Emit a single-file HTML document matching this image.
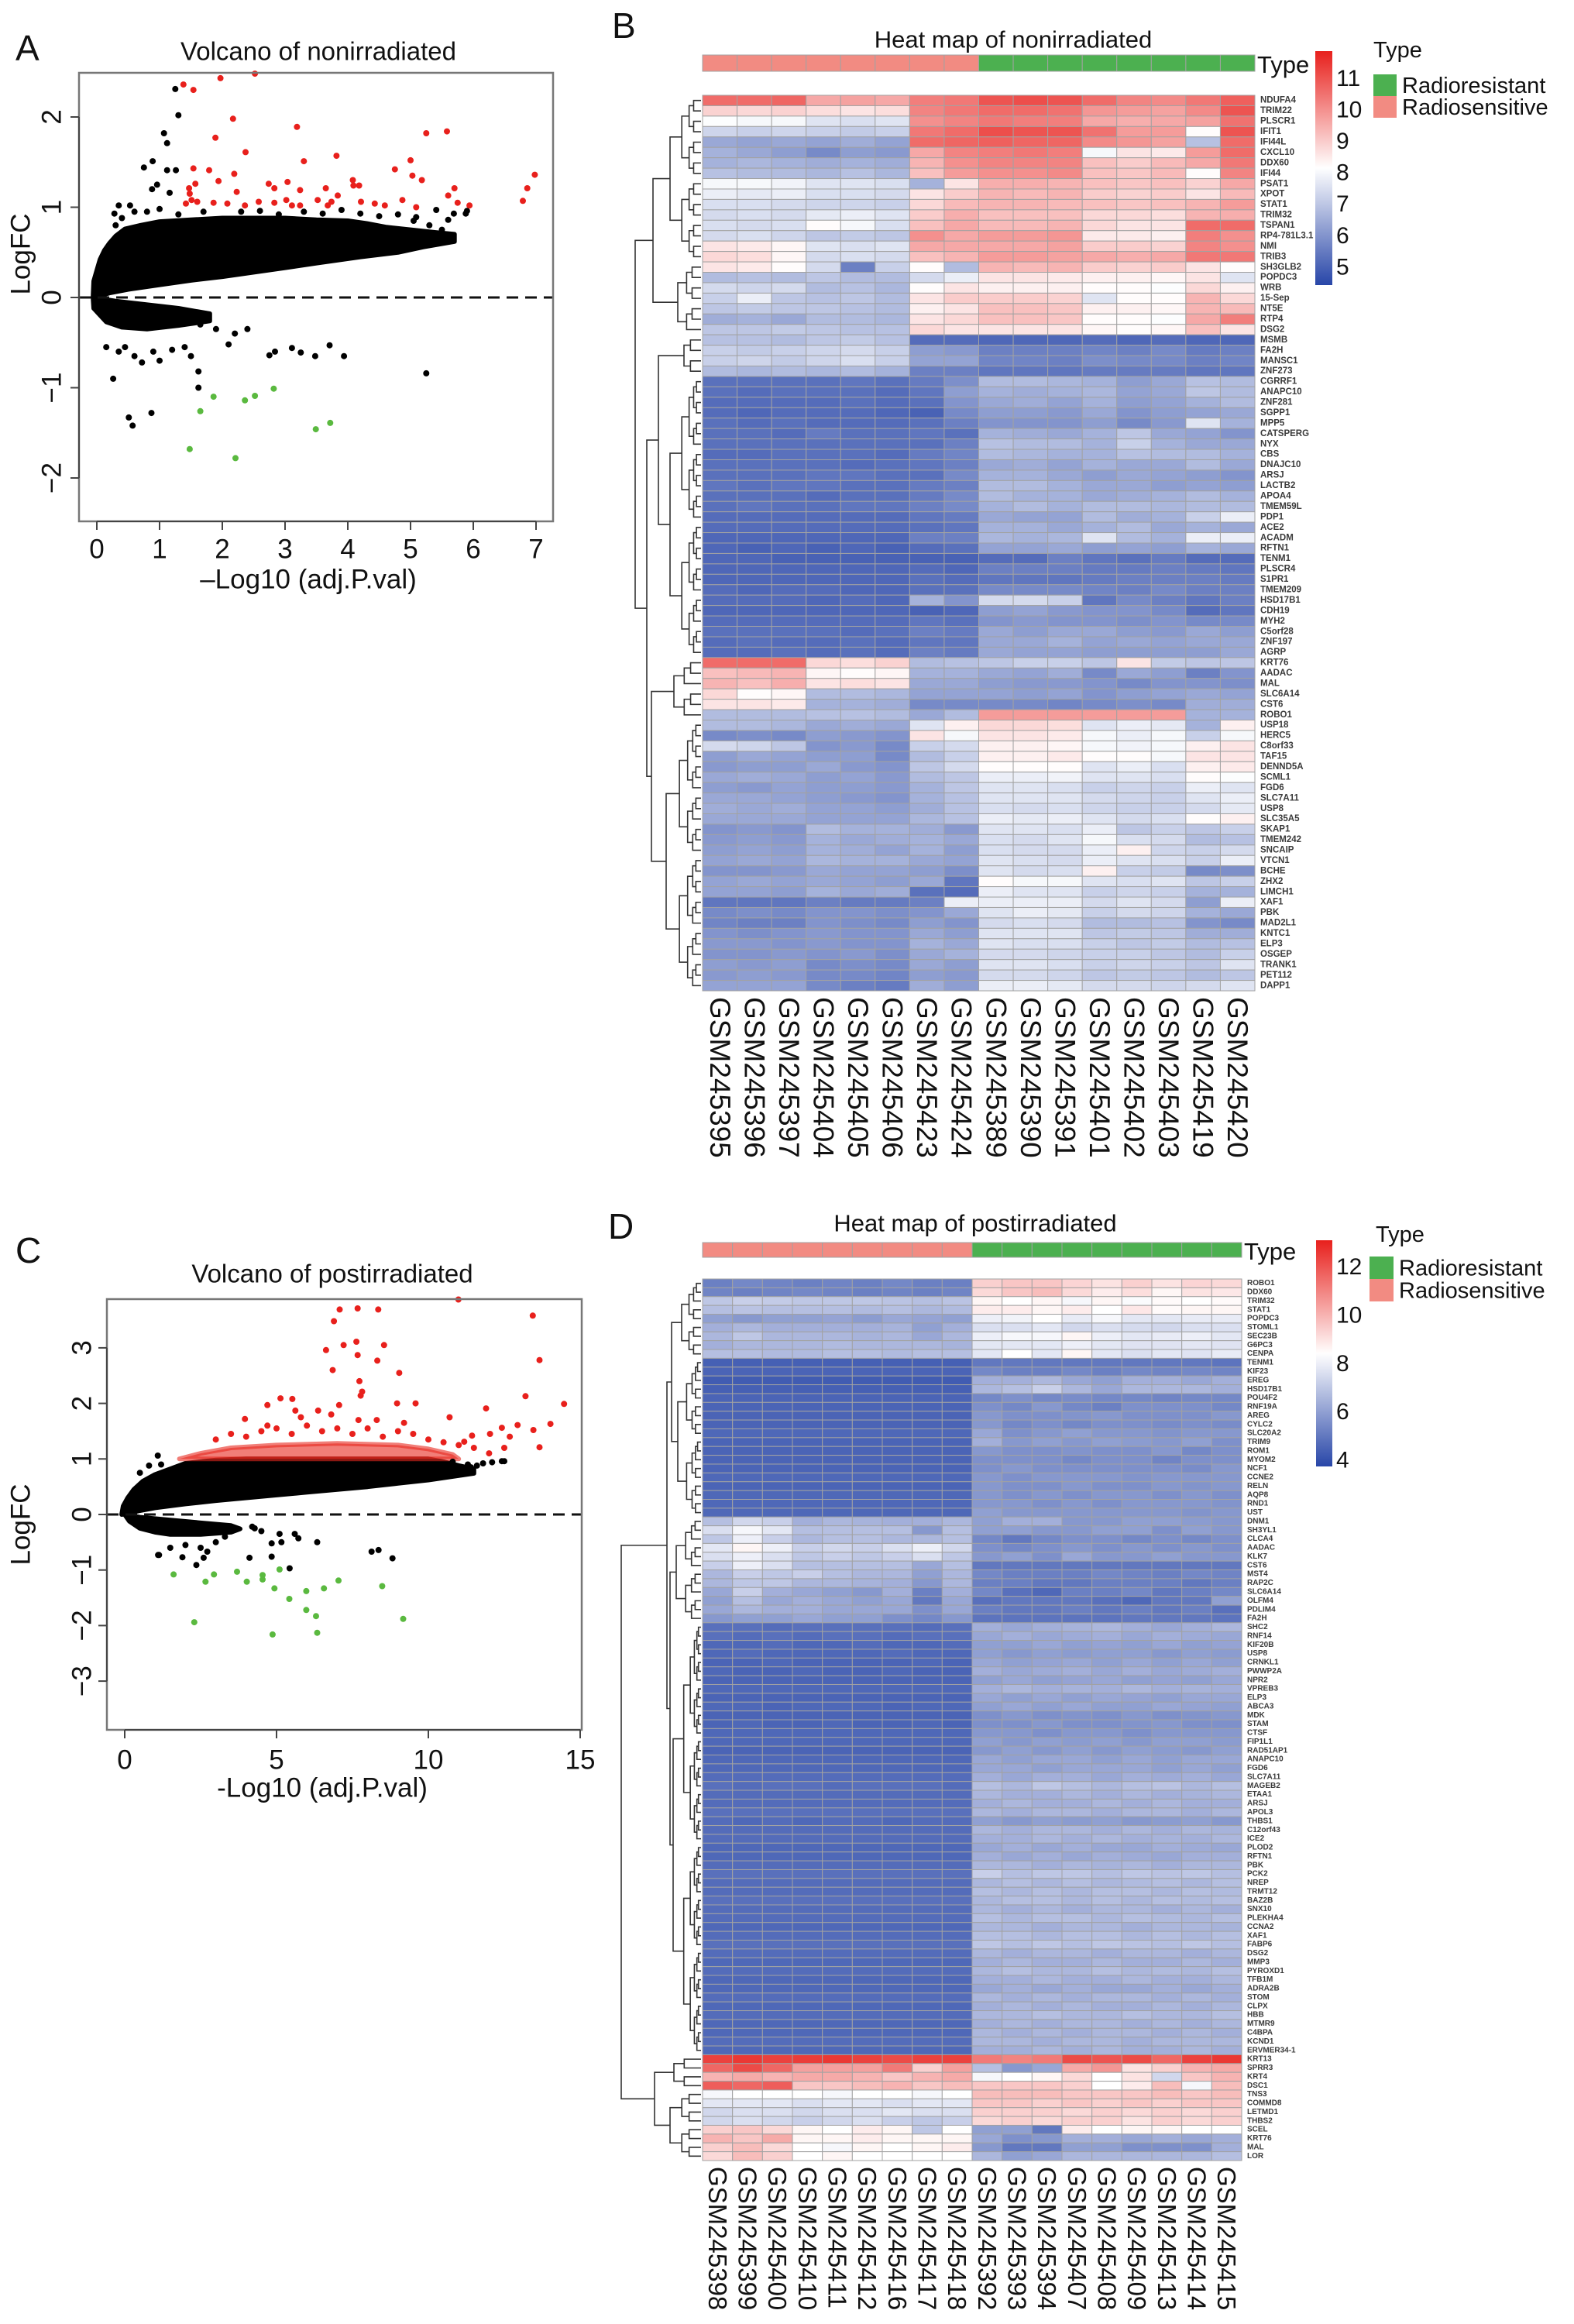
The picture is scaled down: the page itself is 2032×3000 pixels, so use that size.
<!DOCTYPE html>
<html><head><meta charset="utf-8">
<style>
html,body{margin:0;padding:0;background:#fff;}
svg{display:block;font-family:"Liberation Sans",Arial,sans-serif;}
</style></head>
<body>
<svg id="fig" width="2032" height="3000" viewBox="0 0 2032 3000" xmlns="http://www.w3.org/2000/svg"></svg>
<script>
// ===== Volcano A data =====
const aRedX=[1.38,1.54,1.97,2.52,2.17,1.89,2.37,3.19,3.30,3.82,5.25,5.58,5.0,4.75,5.03,5.18,6.98,6.86,6.79,5.94,5.75,5.70,5.60,5.09,4.87,4.43,4.59,4.21,4.09,4.18,4.08,3.84,3.74,3.65,3.68,3.52,3.24,3.04,3.02,2.83,2.74,2.83,2.58,2.36,2.23,2.19,2.08,1.94,1.86,1.79,1.54,1.57,1.47,1.48,1.51,1.42,1.6,3.11,3.24];
const aRedY=[2.36,2.30,2.43,2.48,1.98,1.77,1.61,1.89,1.51,1.57,1.82,1.84,1.52,1.42,1.35,1.30,1.36,1.21,1.07,1.02,1.05,1.21,1.13,1.0,1.08,1.04,1.02,1.06,1.24,1.24,1.30,1.13,1.06,1.21,1.02,1.08,1.19,1.28,1.08,1.21,1.26,1.05,1.06,1.02,1.17,1.37,1.04,1.29,1.05,1.41,1.43,1.26,1.21,1.15,1.08,1.04,1.06,1.02,1.02];
const aGreenX=[1.48,1.65,1.86,2.21,2.36,2.52,2.82,3.49,3.72];
const aGreenY=[-1.68,-1.26,-1.10,-1.78,-1.14,-1.09,-1.01,-1.46,-1.39];
const aBlackX=[1.25,1.30,1.07,1.12,0.89,0.75,1.12,1.26,0.96,0.88,1.16,0.35,0.53,0.28,5.25,0.26,0.51,0.57,0.87,1.62,1.62,3.94,3.71,3.48,3.25,3.11,2.75,2.84,5.6,5.69,5.41,5.88,5.09,0.15,0.35,0.6,0.72,0.9,1.2,1.4,1.5,1.0,0.45,1.9,2.2,2.1,2.4,1.65,0.6,0.8,1.0,1.3,1.7,2.3,2.6,2.9,3.3,3.6,3.9,4.2,4.5,4.8,5.05,5.3,5.5,0.4,0.3,5.9];
const aBlackY=[2.31,2.02,1.82,1.71,1.51,1.44,1.41,1.41,1.25,1.2,1.16,1.02,1.02,0.93,-0.84,-0.9,-1.33,-1.42,-1.28,-0.82,-1.0,-0.65,-0.53,-0.65,-0.61,-0.56,-0.64,-0.6,0.86,0.93,0.97,0.93,0.89,-0.55,-0.6,-0.65,-0.72,-0.6,-0.58,-0.55,-0.65,-0.7,-0.55,-0.35,-0.4,-0.52,-0.35,-0.3,0.95,0.95,0.98,0.92,0.95,0.95,0.96,0.92,0.95,0.93,0.97,0.93,0.9,0.92,0.85,0.8,0.75,0.88,0.8,0.96];
const aCloudX=[-0.06,-0.05,0,0.05,0.12,0.2,0.3,0.45,0.7,1,1.5,2,2.5,3,3.5,4,4.3,4.6,5,5.4,5.7,5.7,5.2,4.8,4.2,3.5,3,2.5,2,1.5,1,0.5,0.2,0.05];
const aCloudY=[0,0.18,0.3,0.42,0.52,0.6,0.68,0.76,0.8,0.84,0.86,0.88,0.88,0.88,0.86,0.85,0.82,0.78,0.75,0.72,0.7,0.62,0.56,0.5,0.45,0.38,0.33,0.28,0.23,0.19,0.14,0.09,0.05,0.02];
const aNegX=[-0.06,0.3,0.8,1.3,1.8,1.8,1.3,0.8,0.4,0.15,-0.05];
const aNegY=[0,-0.04,-0.08,-0.12,-0.18,-0.26,-0.31,-0.35,-0.33,-0.27,-0.12];
const aXTicks=[0,1,2,3,4,5,6,7];
const aYTicks=[-2,-1,0,1,2];

// ===== Volcano C data =====
const cRedX=[7.08,7.67,8.35,6.89,10.99,13.44,6.63,7.21,7.63,7.67,8.54,8.32,13.66,6.85,9.04,7.73,7.82,7.77,13.2,14.47,4.70,5.13,5.52,5.62,6.37,7.06,8.97,9.58,11.9,14.02,13.46,13.66,3.96,10.7,12.42,12.94,12.03,12.68,11.18,11.44,3,3.5,4,4.5,5,5.5,6,6.5,7,7.5,8,8.5,9,9.5,10,10.5,11,11.5,12,12.5,4.7,7.7,8.3,9.2,5.8,6.8];
const cRedY=[3.69,3.71,3.69,3.48,3.87,3.58,2.96,3.05,3.11,2.87,3.05,2.77,2.78,2.60,2.55,2.40,2.21,2.14,2.13,1.99,1.97,2.09,2.08,1.87,1.87,1.97,2.0,2.0,1.91,1.63,1.52,1.21,1.72,1.75,1.56,1.61,1.45,1.40,1.31,1.42,1.35,1.45,1.4,1.5,1.55,1.45,1.6,1.5,1.55,1.45,1.55,1.4,1.5,1.45,1.35,1.3,1.25,1.2,1.1,1.2,1.6,1.7,1.7,1.65,1.75,1.8];
const cGreenX=[1.61,2.29,2.66,2.94,3.70,4.02,4.54,4.54,4.87,4.93,5.10,5.42,5.98,5.98,6.30,6.34,6.56,7.04,8.48,9.17];
const cGreenY=[-1.08,-1.94,-1.21,-1.08,-1.03,-1.21,-1.09,-1.17,-2.16,-1.33,-0.99,-1.52,-1.38,-1.72,-1.83,-2.13,-1.33,-1.19,-1.29,-1.88];
const cBlackX=[1.09,8.13,8.36,8.82,5.43,4.11,4.84,6.34,5.72,5.16,4.84,4.28,2.36,1.9,1.13,2.72,12.42,12.1,11.4,0.5,0.8,1.2,10.8,11.3,11.6,11.8,12.5,1.1,1.5,2,2.5,3,3.3,2.6,4.5,4.2,5.1,5.6];
const cBlackY=[1.06,-0.67,-0.64,-0.79,-0.97,-0.78,-0.76,-0.5,-0.43,-0.5,-0.52,-0.25,-0.91,-0.77,-0.73,-0.67,0.96,0.94,0.85,0.75,0.88,0.9,0.95,0.9,0.88,0.92,0.96,-0.73,-0.6,-0.55,-0.6,-0.5,-0.4,-0.78,-0.3,-0.22,-0.35,-0.35];
const cCloudX=[-0.1,-0.05,0.1,0.3,0.6,1,1.5,2,3,4,6,8,10,10.5,11,11.5,11.5,11,10.5,10,9,8,7,6,5,4,3,2,1,0.5,0.2];
const cCloudY=[0,0.15,0.3,0.45,0.6,0.72,0.82,0.92,0.98,1.0,1.0,1.0,1.0,0.95,0.88,0.82,0.74,0.7,0.66,0.62,0.56,0.5,0.45,0.4,0.35,0.3,0.25,0.19,0.12,0.07,0.03];
const cNegX=[0,0.5,1.5,2.5,3.5,3.8,3.5,2.5,1.5,1,0.5,0.15];
const cNegY=[0,-0.05,-0.1,-0.15,-0.2,-0.26,-0.32,-0.36,-0.36,-0.32,-0.25,-0.12];
const cBandX=[1.8,2.5,3.5,5,7,9,10,10.8,11,1.8];
const cBandY=[1.0,1.1,1.2,1.25,1.28,1.25,1.18,1.08,1.0,1.0];
const cXTicks=[0,5,10,15];
const cYTicks=[-3,-2,-1,0,1,2,3];

// ===== Heatmap B data =====
const bCols=["GSM245395","GSM245396","GSM245397","GSM245404","GSM245405","GSM245406","GSM245423","GSM245424","GSM245389","GSM245390","GSM245391","GSM245401","GSM245402","GSM245403","GSM245419","GSM245420"];
const bTypes=["S","S","S","S","S","S","S","S","R","R","R","R","R","R","R","R"];
const bGenes=["NDUFA4","TRIM22","PLSCR1","IFIT1","IFI44L","CXCL10","DDX60","IFI44","PSAT1","XPOT","STAT1","TRIM32","TSPAN1","RP4-781L3.1","NMI","TRIB3","SH3GLB2","POPDC3","WRB","15-Sep","NT5E","RTP4","DSG2","MSMB","FA2H","MANSC1","ZNF273","CGRRF1","ANAPC10","ZNF281","SGPP1","MPP5","CATSPERG","NYX","CBS","DNAJC10","ARSJ","LACTB2","APOA4","TMEM59L","PDP1","ACE2","ACADM","RFTN1","TENM1","PLSCR4","S1PR1","TMEM209","HSD17B1","CDH19","MYH2","C5orf28","ZNF197","AGRP","KRT76","AADAC","MAL","SLC6A14","CST6","ROBO1","USP18","HERC5","C8orf33","TAF15","DENND5A","SCML1","FGD6","SLC7A11","USP8","SLC35A5","SKAP1","TMEM242","SNCAIP","VTCN1","BCHE","ZHX2","LIMCH1","XAF1","PBK","MAD2L1","KNTC1","ELP3","OSGEP","TRANK1","PET112","DAPP1"];
const bValues=[
[10.6,10.6,10.7,9.6,9.7,9.6,10.3,10.4,11.0,11.1,11.0,10.6,10.2,10.1,10.4,10.8],
[8.9,8.8,8.9,8.7,8.6,8.7,10.2,10.4,10.6,10.6,10.5,9.9,9.8,9.7,10.1,11.0],
[8.1,8.0,8.0,7.6,7.5,7.6,10.0,10.2,10.4,10.3,10.3,9.6,9.5,9.6,9.7,10.5],
[7.3,7.2,7.3,7.2,7.1,7.2,10.4,10.6,11.1,11.0,11.0,10.5,9.8,9.8,8.2,11.0],
[6.4,6.3,6.4,6.3,6.5,6.3,10.6,10.7,10.8,10.7,10.7,10.1,9.9,9.7,6.9,10.6],
[6.6,6.4,6.2,5.8,6.2,6.1,9.6,10.2,10.3,10.4,10.3,8.0,8.6,8.5,9.8,10.6],
[6.6,6.7,6.6,6.5,6.6,6.5,9.4,10.0,10.2,10.2,10.2,9.2,9.0,9.3,9.6,10.4],
[6.9,6.8,6.8,6.7,6.9,6.7,9.2,9.8,10.0,10.0,10.1,9.2,9.1,9.3,8.2,10.2],
[8.0,8.0,7.9,7.6,7.6,7.5,6.6,8.6,9.5,9.5,9.4,9.2,9.1,9.2,8.9,9.6],
[7.8,7.7,7.8,7.5,7.5,7.4,8.6,9.0,9.4,9.3,9.4,9.0,8.9,9.0,8.6,9.3],
[7.5,7.5,7.4,7.3,7.3,7.2,8.8,9.3,9.4,9.4,9.3,9.2,9.1,9.2,9.4,9.8],
[7.4,7.5,7.4,7.7,7.8,7.6,9.0,9.5,9.2,9.2,9.2,8.8,8.8,8.7,9.4,9.5],
[7.5,7.4,7.5,8.2,8.0,7.5,9.2,9.6,9.3,9.3,9.4,8.8,8.6,8.6,10.6,10.6],
[7.4,7.5,7.3,7.0,7.1,7.0,10.0,9.6,9.8,9.8,9.9,8.5,8.5,8.4,10.3,10.0],
[8.6,8.5,8.3,7.6,7.5,7.6,9.6,9.6,9.6,9.6,9.7,9.0,9.0,8.9,10.2,10.0],
[8.8,8.7,8.3,7.4,7.5,7.4,9.2,9.4,9.8,9.8,9.7,9.6,9.5,9.6,10.4,10.4],
[8.6,8.5,8.2,7.4,5.6,7.2,8.2,6.8,9.4,9.3,9.4,9.0,8.9,9.0,8.6,8.2],
[6.8,6.9,6.8,7.0,6.8,6.8,7.4,7.8,8.6,8.6,8.5,8.4,8.4,8.3,8.6,7.6],
[7.4,7.3,7.4,6.8,6.9,6.7,8.2,8.6,8.4,8.4,8.4,8.2,8.2,8.1,8.8,8.4],
[7.2,7.8,7.0,6.9,7.0,6.8,8.6,9.0,9.0,9.0,8.9,7.6,8.2,8.2,9.4,8.8],
[7.0,7.1,7.0,7.0,6.9,6.8,8.4,8.6,9.2,9.2,9.1,8.4,8.4,8.3,9.4,9.3],
[6.5,6.6,6.4,6.8,6.8,6.7,8.6,8.8,9.2,9.2,9.1,8.2,8.2,8.1,9.6,10.3],
[7.0,7.0,7.1,7.0,6.9,6.9,8.8,8.6,8.6,8.6,8.6,8.3,8.2,8.3,9.2,8.6],
[6.9,6.9,6.8,7.0,7.1,6.9,5.2,5.2,5.1,5.1,5.1,5.2,5.1,5.2,5.1,5.1],
[7.2,7.1,7.2,7.3,7.4,7.2,6.2,6.1,5.6,5.6,5.6,5.7,5.6,5.8,5.5,5.6],
[7.2,7.3,7.1,7.3,7.5,7.2,6.3,6.3,5.7,5.7,5.6,5.9,5.8,5.8,5.6,5.7],
[6.8,6.7,6.8,6.7,6.8,6.6,5.6,5.6,5.4,5.4,5.4,5.5,5.5,5.5,5.4,5.4],
[5.3,5.3,5.3,5.3,5.4,5.3,5.5,5.9,6.8,6.8,6.7,6.6,6.2,6.4,6.9,6.8],
[5.3,5.2,5.3,5.3,5.3,5.2,5.4,6.2,6.6,6.5,6.6,6.7,6.3,6.4,7.0,6.8],
[5.2,5.2,5.2,5.2,5.3,5.2,5.3,6.0,6.4,6.5,6.3,6.6,6.2,6.3,6.6,6.8],
[5.2,5.1,5.2,5.2,5.2,5.1,5.0,5.8,6.2,6.2,6.1,6.4,6.0,6.2,6.3,6.4],
[5.3,5.2,5.3,5.2,5.2,5.2,5.3,5.6,6.0,6.0,6.0,6.2,5.8,6.1,7.6,6.6],
[5.3,5.3,5.2,5.5,5.3,5.3,5.4,5.3,6.6,6.5,6.4,6.6,7.0,6.4,6.3,6.0],
[5.3,5.3,5.3,5.3,5.3,5.3,5.3,5.6,6.9,6.8,6.8,6.6,7.2,6.6,6.4,6.4],
[5.2,5.2,5.3,5.3,5.3,5.2,5.5,5.7,6.8,6.7,6.6,6.6,6.9,6.8,6.8,6.6],
[5.3,5.3,5.3,5.3,5.2,5.3,5.4,5.6,6.4,6.5,6.3,6.6,6.4,6.4,6.8,6.4],
[5.3,5.3,5.3,5.4,5.4,5.3,5.3,5.8,6.6,6.6,6.4,6.2,6.4,6.3,6.2,6.0],
[5.4,5.3,5.4,5.4,5.3,5.3,5.5,5.6,6.8,6.8,6.6,6.4,6.4,6.2,6.3,6.2],
[5.3,5.3,5.3,5.2,5.3,5.3,5.5,5.8,6.8,6.6,6.6,6.4,6.5,6.6,6.8,6.6],
[5.3,5.4,5.3,5.3,5.4,5.4,5.6,5.8,6.6,6.8,6.6,6.8,6.8,6.7,6.8,6.8],
[5.2,5.2,5.2,5.2,5.2,5.2,5.4,5.5,6.4,6.3,6.3,6.8,6.5,6.6,7.2,7.8],
[5.2,5.2,5.2,5.2,5.2,5.2,5.3,5.4,6.6,6.6,6.4,6.6,6.8,6.4,6.6,6.4],
[5.1,5.1,5.1,5.1,5.1,5.1,5.6,5.6,6.7,6.6,6.7,7.6,6.8,6.6,7.8,7.8],
[5.1,5.0,5.1,5.0,5.1,5.0,5.2,5.3,6.3,6.3,6.4,6.2,6.3,6.2,6.6,6.4],
[5.1,5.1,5.0,5.0,5.0,5.0,5.0,5.0,5.2,5.2,5.6,5.4,5.3,5.5,5.2,5.2],
[5.1,5.1,5.1,5.1,5.1,5.1,5.2,5.1,5.6,5.6,5.6,5.5,5.5,5.6,5.5,5.4],
[5.1,5.1,5.1,5.1,5.1,5.1,5.3,5.2,5.4,5.4,5.4,5.5,5.6,5.6,5.6,5.5],
[5.2,5.1,5.2,5.2,5.1,5.1,5.3,5.3,5.8,5.8,5.8,5.7,5.6,5.8,5.6,5.6],
[5.2,5.2,5.2,5.1,5.2,5.1,6.6,6.0,7.4,7.4,7.2,5.4,5.8,5.6,5.4,5.6],
[5.1,5.1,5.1,5.1,5.1,5.1,5.0,5.1,6.2,6.3,6.1,6.0,6.0,5.8,5.2,5.4],
[5.2,5.2,5.2,5.2,5.2,5.2,5.4,5.3,6.0,6.1,6.0,6.0,5.9,6.0,5.8,5.8],
[5.3,5.3,5.3,5.3,5.2,5.3,5.6,5.5,6.4,6.2,6.4,6.4,6.2,6.1,6.4,6.2],
[5.2,5.3,5.2,5.2,5.3,5.2,5.4,5.4,6.4,6.4,6.6,6.3,6.4,6.3,6.4,6.4],
[5.2,5.2,5.3,5.2,5.3,5.2,5.6,5.5,6.4,6.3,6.3,6.2,6.2,6.2,6.2,6.4],
[10.6,10.6,10.6,8.8,8.7,8.9,6.8,6.9,7.0,7.2,7.2,7.0,8.6,7.1,7.0,7.0],
[9.2,9.3,9.4,8.3,8.2,8.3,6.6,6.6,6.4,6.3,6.5,5.8,6.4,6.2,5.6,6.0],
[9.4,9.2,9.5,8.6,8.7,8.6,6.4,6.4,6.2,6.1,6.1,6.0,5.8,6.0,6.0,5.9],
[8.8,8.2,8.3,6.8,6.8,6.7,6.3,6.3,6.3,6.2,6.3,6.0,6.2,6.3,6.4,6.3],
[8.6,8.6,8.5,6.6,6.6,6.5,5.8,5.8,5.8,5.8,5.7,5.8,5.9,5.8,6.5,6.5],
[6.8,6.8,6.8,6.9,6.9,6.8,6.4,6.8,9.8,9.8,9.8,9.8,9.8,9.8,6.6,6.6],
[6.8,6.8,6.7,6.4,6.5,6.4,7.6,8.4,8.8,8.8,8.7,7.6,7.8,7.7,6.6,8.4],
[5.8,5.9,5.8,6.2,6.1,6.0,8.6,8.0,8.6,8.6,8.5,8.0,7.8,8.0,7.2,8.0],
[7.4,7.3,7.0,6.0,6.1,5.8,7.2,7.4,8.4,8.4,8.3,8.0,7.9,8.0,8.4,8.6],
[6.2,6.4,6.3,6.2,6.2,5.8,6.8,7.2,8.4,8.4,8.5,8.2,8.2,8.0,8.6,8.6],
[6.1,6.2,6.2,6.4,6.1,6.0,7.0,7.4,8.2,8.2,8.2,7.6,7.8,7.5,8.4,8.5],
[6.4,6.5,6.4,6.2,6.3,6.1,6.8,7.0,7.8,7.8,7.9,7.6,7.6,7.5,8.2,8.1],
[6.2,6.1,6.3,6.2,6.2,6.1,6.6,7.0,7.6,7.6,7.5,7.2,7.3,7.2,7.8,7.6],
[6.4,6.4,6.3,6.2,6.1,6.0,6.6,6.9,7.6,7.6,7.6,7.4,7.3,7.2,7.6,7.8],
[6.5,6.4,6.5,6.3,6.3,6.2,6.5,6.9,7.5,7.4,7.5,7.3,7.2,7.2,7.4,7.7],
[6.4,6.4,6.4,6.3,6.3,6.3,6.7,6.9,7.8,7.7,7.8,7.6,7.4,7.5,8.2,8.4],
[6.0,6.1,6.0,6.8,6.6,6.6,6.5,6.1,7.6,7.6,7.5,7.8,7.0,7.2,7.0,7.2],
[6.1,6.2,6.1,6.6,6.4,6.5,6.6,6.4,7.5,7.4,7.6,8.0,7.5,7.4,6.8,6.9],
[6.2,6.3,6.2,6.6,6.5,6.3,6.6,6.2,7.5,7.4,7.4,7.8,8.4,7.3,7.2,7.4],
[6.3,6.4,6.3,6.7,6.6,6.6,6.4,6.3,7.6,7.5,7.4,7.8,7.6,7.5,7.2,7.8],
[6.0,6.0,6.1,6.4,6.3,6.3,6.2,5.9,7.6,7.4,7.5,8.4,7.2,7.1,5.8,5.9],
[6.3,6.4,6.3,6.4,6.3,6.2,6.4,5.4,8.2,8.0,8.0,7.6,7.5,7.6,7.0,7.2],
[6.3,6.3,6.2,6.6,6.4,6.5,5.3,5.2,7.8,7.6,7.6,7.2,7.3,7.2,6.6,6.6],
[5.4,5.4,5.4,5.6,5.5,5.5,5.6,7.8,7.8,7.8,7.8,7.4,7.6,7.4,6.2,7.8],
[5.8,5.9,5.8,6.0,6.0,5.9,6.0,6.4,7.6,7.8,7.7,7.2,7.4,7.3,6.6,6.4],
[5.7,5.6,5.6,6.0,5.9,5.8,6.2,6.0,7.4,7.5,7.4,6.8,6.8,6.9,6.0,5.8],
[6.0,5.9,6.0,6.1,6.0,6.0,6.4,6.2,7.6,7.6,7.6,7.0,7.1,7.0,6.5,6.5],
[6.1,6.1,6.0,6.1,6.0,6.0,6.6,6.4,7.6,7.5,7.5,7.2,7.0,7.1,6.8,6.9],
[6.0,6.0,6.1,6.0,6.1,5.9,6.4,6.6,7.4,7.4,7.3,7.2,7.2,7.0,6.8,7.2],
[6.2,6.1,6.2,5.8,5.9,5.8,6.4,6.2,7.6,7.6,7.5,7.2,7.3,7.2,7.0,7.6],
[6.1,6.2,6.1,5.8,5.8,5.7,6.2,6.1,7.4,7.4,7.3,7.0,7.1,7.0,6.8,7.0],
[6.3,6.3,6.3,5.8,5.6,5.5,6.5,6.2,7.8,7.8,7.7,7.4,7.4,7.3,7.4,7.6]];
const bScaleTicks=[5,6,7,8,9,10,11];

// ===== Heatmap D data =====
const dCols=["GSM245398","GSM245399","GSM245400","GSM245410","GSM245411","GSM245412","GSM245416","GSM245417","GSM245418","GSM245392","GSM245393","GSM245394","GSM245407","GSM245408","GSM245409","GSM245413","GSM245414","GSM245415"];
const dTypes=["S","S","S","S","S","S","S","S","S","R","R","R","R","R","R","R","R","R"];
const dGenes=["ROBO1","DDX60","TRIM32","STAT1","POPDC3","STOML1","SEC23B","G6PC3","CENPA","TENM1","KIF23","EREG","HSD17B1","POU4F2","RNF19A","AREG","CYLC2","SLC20A2","TRIM9","ROM1","MYOM2","NCF1","CCNE2","RELN","AQP8","RND1","UST","DNM1","SH3YL1","CLCA4","AADAC","KLK7","CST6","MST4","RAP2C","SLC6A14","OLFM4","PDLIM4","FA2H","SHC2","RNF14","KIF20B","USP8","CRNKL1","PWWP2A","NPR2","VPREB3","ELP3","ABCA3","MDK","STAM","CTSF","FIP1L1","RAD51AP1","ANAPC10","FGD6","SLC7A11","MAGEB2","ETAA1","ARSJ","APOL3","THBS1","C12orf43","ICE2","PLOD2","RFTN1","PBK","PCK2","NREP","TRMT12","BAZ2B","SNX10","PLEKHA4","CCNA2","XAF1","FABP6","DSG2","MMP3","PYROXD1","TFB1M","ADRA2B","STOM","CLPX","HBB","MTMR9","C4BPA","KCND1","ERVMER34-1","KRT13","SPRR3","KRT4","DSC1","TNS3","COMMD8","LETMD1","THBS2","SCEL","KRT76","MAL","LOR"];
const dValues=[
[5.2,5.4,5.3,5.2,5.3,5.2,5.4,5.2,5.2,9.4,9.6,9.6,9.3,9.0,9.4,9.0,9.3,9.2],
[5.3,5.2,5.3,5.4,5.3,5.2,5.3,5.2,5.3,9.2,9.6,9.8,9.2,8.8,9.1,8.6,9.0,8.9],
[7.0,7.2,7.1,7.0,7.0,7.0,6.9,6.8,6.9,8.6,8.4,8.6,8.2,8.6,8.3,8.5,8.4,8.5],
[6.8,6.9,6.8,6.8,6.8,6.7,6.8,6.6,6.7,8.8,8.8,8.6,8.8,8.4,8.9,8.5,8.6,8.6],
[6.0,5.8,6.0,6.0,6.1,5.9,6.2,6.1,6.0,8.0,8.1,8.4,7.9,8.2,7.8,7.8,7.9,7.9],
[6.4,6.6,6.4,6.4,6.4,6.4,6.5,6.0,6.4,7.6,7.6,7.8,7.4,7.6,7.5,7.4,7.6,7.6],
[6.6,7.0,6.6,6.6,6.6,6.5,6.6,6.2,6.6,8.0,8.2,8.2,8.6,8.0,7.8,7.9,8.0,7.8],
[6.4,6.6,6.6,6.6,6.7,6.6,6.6,6.6,6.5,7.8,7.8,7.8,8.0,7.8,7.7,7.7,7.8,7.7],
[6.8,6.8,6.7,6.7,6.8,6.8,6.7,6.8,6.8,7.8,8.4,7.8,8.6,7.8,7.6,7.8,7.7,7.9],
[4.4,4.4,4.4,4.4,4.4,4.4,4.4,4.4,4.4,5.0,5.0,5.0,5.0,5.0,5.0,5.0,5.0,4.9],
[4.5,4.5,4.5,4.5,4.5,4.5,4.5,4.5,4.5,5.4,5.2,5.2,5.4,5.2,5.4,5.3,5.4,5.3],
[4.3,4.3,4.3,4.3,4.3,4.3,4.3,4.3,4.3,6.4,6.4,6.6,6.2,6.0,6.4,6.4,6.2,6.4],
[4.4,4.4,4.4,4.4,4.4,4.4,4.4,4.4,4.4,6.6,6.8,7.2,6.6,6.2,6.6,6.6,6.6,6.4],
[4.5,4.5,4.5,4.5,4.5,4.5,4.5,4.5,4.5,5.4,5.6,5.4,5.5,5.4,5.4,5.3,5.4,5.4],
[4.5,4.5,4.5,4.5,4.5,4.5,4.5,4.5,4.5,5.6,5.4,5.8,5.4,5.2,5.6,5.6,5.6,5.4],
[4.5,4.5,4.5,4.5,4.5,4.5,4.5,4.5,4.5,5.8,5.6,5.6,5.7,5.8,5.6,5.6,5.6,5.8],
[4.5,4.5,4.5,4.5,4.5,4.5,4.5,4.5,4.5,5.8,5.4,5.6,5.4,5.6,5.6,5.5,5.6,5.5],
[4.6,4.6,4.6,4.6,4.6,4.6,4.6,4.6,4.6,6.2,5.6,5.8,6.0,5.8,5.8,5.7,5.8,5.8],
[4.5,4.5,4.5,4.5,4.5,4.5,4.5,4.5,4.5,6.4,5.8,6.0,5.8,6.0,5.9,5.8,6.0,5.6],
[4.5,4.5,4.5,4.5,4.5,4.5,4.5,4.5,4.5,5.8,5.6,5.6,5.7,5.6,5.6,5.8,5.4,5.6],
[4.5,4.5,4.5,4.5,4.5,4.5,4.5,4.5,4.5,5.6,5.6,5.6,5.4,5.6,5.6,5.3,5.6,5.6],
[4.5,4.5,4.5,4.5,4.5,4.5,4.5,4.5,4.5,5.6,5.8,5.6,5.6,5.6,5.6,5.6,5.5,5.8],
[4.6,4.6,4.6,4.6,4.6,4.6,4.6,4.6,4.6,5.8,5.6,5.8,5.8,5.8,5.7,5.8,5.8,5.8],
[4.5,4.5,4.5,4.5,4.5,4.5,4.5,4.5,4.5,5.8,5.6,5.6,5.8,5.6,5.6,5.8,5.7,5.8],
[4.6,4.6,4.6,4.6,4.6,4.6,4.6,4.6,4.6,5.8,5.6,5.8,5.6,5.8,5.8,5.6,5.8,5.6],
[4.6,4.6,4.6,4.6,4.6,4.6,4.6,4.6,4.6,5.8,5.8,5.6,5.8,5.6,5.8,5.8,5.8,5.7],
[4.6,4.6,4.6,4.6,4.6,4.6,4.6,4.6,4.6,6.0,5.8,5.8,5.8,5.8,5.8,5.8,5.7,5.8],
[6.8,7.4,7.2,6.4,6.6,6.5,6.4,6.4,6.6,6.0,6.4,6.4,5.8,5.8,6.0,6.0,5.9,5.8],
[7.6,8.2,7.8,6.8,6.8,6.8,6.8,5.8,6.8,6.0,6.0,5.8,5.8,6.0,6.0,5.6,6.0,5.8],
[7.0,8.0,7.2,6.6,6.8,6.8,6.6,6.6,6.8,5.4,5.0,5.4,5.6,5.6,5.4,5.6,5.4,5.6],
[7.8,8.6,8.0,7.2,7.4,7.2,7.6,8.0,7.4,5.6,5.4,5.6,5.8,5.6,5.8,5.6,5.8,5.6],
[7.6,8.0,7.6,7.0,7.2,7.0,7.2,7.6,7.0,5.8,6.0,5.6,6.2,5.8,5.8,6.0,5.8,5.8],
[7.2,8.0,7.6,6.8,6.8,6.8,6.8,6.2,6.8,5.0,5.0,5.0,5.0,5.0,5.0,5.0,5.0,5.0],
[6.6,7.2,7.0,7.2,6.8,6.6,6.6,6.0,6.6,5.4,5.2,5.2,5.2,5.4,5.3,5.2,5.4,5.3],
[6.6,7.0,7.0,6.6,6.6,6.5,6.4,5.8,6.6,5.2,5.2,5.0,5.0,5.2,5.2,5.2,5.0,5.2],
[6.2,7.2,6.4,6.2,6.0,5.8,6.4,5.2,6.4,5.4,4.8,4.6,5.2,5.2,5.4,5.0,5.2,5.4],
[6.0,6.8,6.2,6.4,6.2,6.0,6.2,5.0,6.2,4.8,5.0,5.0,5.0,4.8,4.6,5.0,5.0,6.0],
[6.2,6.6,6.4,6.4,6.2,6.2,6.2,5.6,6.2,5.2,5.0,5.0,5.2,5.0,5.2,5.0,5.2,4.8],
[5.8,6.0,6.0,6.2,6.0,6.0,5.6,5.4,5.8,4.9,4.9,4.9,4.9,4.9,5.0,5.0,5.0,4.9],
[4.8,4.8,4.7,4.8,4.8,4.8,4.8,4.7,4.8,6.4,6.2,6.4,6.5,6.6,6.4,6.2,6.4,6.6],
[4.8,4.7,4.8,4.7,4.8,4.8,4.7,4.8,4.8,6.2,6.4,6.2,6.3,6.4,6.2,6.4,6.3,6.2],
[4.6,4.6,4.7,4.6,4.6,4.7,4.6,4.6,4.7,6.0,6.0,6.2,6.0,6.1,6.0,6.2,6.0,6.1],
[4.6,4.7,4.6,4.6,4.6,4.6,4.7,4.6,4.6,6.0,5.8,6.0,5.9,6.0,6.0,5.8,6.0,5.9],
[4.5,4.5,4.6,4.5,4.5,4.5,4.5,4.6,4.5,6.2,6.0,6.1,6.2,6.0,6.2,6.0,6.2,6.0],
[4.6,4.5,4.5,4.6,4.5,4.5,4.6,4.5,4.5,6.4,6.2,6.3,6.4,6.2,6.4,6.2,6.3,6.4],
[4.5,4.5,4.5,4.5,4.5,4.5,4.5,4.5,4.5,6.0,6.2,6.0,6.1,6.2,6.0,6.1,6.0,6.2],
[4.6,4.6,4.6,4.6,4.6,4.6,4.6,4.6,4.6,6.4,6.6,6.4,6.5,6.4,6.6,6.4,6.5,6.4],
[4.5,4.5,4.5,4.5,4.5,4.5,4.5,4.5,4.5,6.2,6.0,6.2,6.0,6.2,6.1,6.0,6.2,6.2],
[4.6,4.6,4.5,4.6,4.6,4.6,4.5,4.6,4.6,6.0,6.2,6.0,6.2,6.0,6.0,6.2,6.1,6.0],
[4.5,4.5,4.5,4.5,4.5,4.5,4.5,4.5,4.5,5.6,5.8,5.6,5.7,5.6,5.8,5.6,5.7,5.8],
[4.5,4.6,4.5,4.5,4.6,4.5,4.5,4.6,4.5,5.6,5.6,5.8,5.6,5.6,5.7,5.8,5.6,5.6],
[4.6,4.6,4.6,4.6,4.6,4.6,4.6,4.6,4.6,5.8,5.8,5.6,5.8,5.8,5.6,5.8,5.8,5.8],
[4.6,4.6,4.6,4.6,4.6,4.6,4.6,4.6,4.6,6.0,5.8,6.0,5.9,6.0,5.8,6.0,6.0,5.9],
[4.5,4.5,4.5,4.5,4.5,4.5,4.5,4.5,4.5,5.8,6.0,5.8,6.0,5.8,6.0,5.9,5.8,6.0],
[4.6,4.6,4.6,4.6,4.6,4.6,4.6,4.6,4.6,6.2,6.0,6.2,6.2,6.0,6.2,6.0,6.2,6.2],
[4.6,4.6,4.6,4.6,4.6,4.6,4.6,4.6,4.6,6.2,6.2,6.0,6.2,6.2,6.2,6.0,6.2,6.0],
[4.7,4.7,4.7,4.7,4.7,4.7,4.7,4.7,4.7,6.4,6.2,6.4,6.4,6.2,6.4,6.3,6.4,6.2],
[4.8,4.7,4.8,4.8,4.7,4.8,4.8,4.8,4.7,6.8,6.6,7.0,6.8,6.6,6.8,6.9,6.6,6.8],
[4.7,4.7,4.7,4.7,4.7,4.7,4.7,4.7,4.7,6.6,6.4,6.4,6.6,6.4,6.6,6.4,6.5,6.6],
[4.7,4.7,4.7,4.7,4.7,4.7,4.7,4.7,4.7,6.4,6.6,6.4,6.4,6.6,6.4,6.6,6.4,6.4],
[4.8,4.8,4.8,4.8,4.8,4.8,4.8,4.8,4.8,6.6,6.4,6.6,6.6,6.4,6.6,6.6,6.4,6.6],
[4.7,4.6,4.7,4.6,4.7,4.7,4.6,4.7,4.7,6.0,5.8,6.0,5.9,6.0,5.8,5.9,6.0,5.8],
[4.7,4.7,4.7,4.7,4.7,4.7,4.7,4.7,4.7,6.6,6.4,6.6,6.6,6.4,6.6,6.4,6.6,6.5],
[4.7,4.7,4.7,4.7,4.7,4.7,4.7,4.7,4.7,6.4,6.4,6.6,6.4,6.6,6.4,6.5,6.4,6.6],
[4.6,4.6,4.6,4.6,4.6,4.6,4.6,4.6,4.6,6.2,6.4,6.2,6.4,6.2,6.2,6.4,6.3,6.2],
[4.6,4.6,4.6,4.6,4.6,4.6,4.6,4.6,4.6,6.4,6.2,6.4,6.2,6.4,6.3,6.2,6.4,6.4],
[4.7,4.7,4.7,4.7,4.7,4.7,4.7,4.7,4.7,6.6,6.6,6.4,6.6,6.5,6.6,6.4,6.6,6.6],
[4.8,4.8,4.8,4.8,4.8,4.8,4.8,4.8,4.8,7.2,6.8,7.0,7.0,6.8,7.0,6.9,7.0,6.8],
[4.7,4.7,4.7,4.7,4.7,4.7,4.7,4.7,4.7,6.6,6.8,6.6,6.8,6.6,6.7,6.8,6.6,6.8],
[4.7,4.7,4.7,4.7,4.7,4.7,4.7,4.7,4.7,6.8,6.6,6.8,6.6,6.8,6.8,6.6,6.8,6.7],
[4.8,4.8,4.8,4.8,4.8,4.8,4.8,4.8,4.8,6.6,6.8,6.8,6.6,6.8,6.6,6.8,6.7,6.8],
[4.7,4.7,4.7,4.7,4.7,4.7,4.7,4.7,4.7,6.6,6.4,6.6,6.4,6.6,6.6,6.4,6.6,6.4],
[4.7,4.7,4.7,4.7,4.7,4.7,4.7,4.7,4.7,6.8,6.6,6.8,6.8,6.6,6.8,6.7,6.6,6.8],
[4.6,4.6,4.6,4.6,4.6,4.6,4.6,4.6,4.6,6.6,6.6,6.4,6.6,6.6,6.4,6.6,6.6,6.5],
[4.7,4.7,4.7,4.7,4.7,4.7,4.7,4.7,4.7,6.8,6.8,6.6,6.8,6.8,6.6,6.8,6.6,6.8],
[4.8,4.8,4.8,4.8,4.8,4.8,4.8,4.8,4.8,7.0,6.8,7.0,6.8,7.0,6.9,6.8,7.0,6.8],
[4.7,4.7,4.7,4.7,4.7,4.7,4.7,4.7,4.7,6.6,6.4,6.6,6.6,6.4,6.6,6.6,6.4,6.6],
[4.6,4.6,4.6,4.6,4.6,4.6,4.6,4.6,4.6,6.4,6.6,6.4,6.4,6.6,6.4,6.4,6.6,6.4],
[4.7,4.7,4.7,4.7,4.7,4.7,4.7,4.7,4.7,6.6,6.8,6.6,6.6,6.8,6.6,6.7,6.6,6.8],
[4.6,4.6,4.6,4.6,4.6,4.6,4.6,4.6,4.6,6.4,6.4,6.6,6.4,6.4,6.6,6.4,6.4,6.6],
[4.6,4.6,4.6,4.6,4.6,4.6,4.6,4.6,4.6,6.2,6.4,6.2,6.4,6.2,6.2,6.4,6.2,6.4],
[4.7,4.7,4.7,4.7,4.7,4.7,4.7,4.7,4.7,6.6,6.4,6.6,6.4,6.6,6.6,6.4,6.6,6.4],
[4.6,4.6,4.6,4.6,4.6,4.6,4.6,4.6,4.6,6.4,6.6,6.4,6.6,6.4,6.4,6.6,6.4,6.6],
[4.7,4.7,4.7,4.7,4.7,4.7,4.7,4.7,4.7,6.6,6.6,6.8,6.6,6.6,6.8,6.6,6.6,6.8],
[4.6,4.6,4.6,4.6,4.6,4.6,4.6,4.6,4.6,6.4,6.6,6.4,6.6,6.6,6.4,6.6,6.4,6.6],
[4.6,4.6,4.6,4.6,4.6,4.6,4.6,4.6,4.6,6.6,6.4,6.6,6.4,6.6,6.6,6.4,6.6,6.4],
[4.7,4.7,4.7,4.7,4.7,4.7,4.7,4.7,4.7,6.6,6.6,6.4,6.6,6.6,6.4,6.6,6.6,6.6],
[4.6,4.6,4.6,4.6,4.6,4.6,4.6,4.6,4.6,6.4,6.4,6.6,6.4,6.6,6.4,6.4,6.6,6.4],
[12.4,12.6,12.4,12.5,12.6,12.4,12.2,12.4,12.4,11.2,11.0,11.2,12.2,12.0,12.2,11.6,12.4,12.6],
[11.6,12.2,11.6,10.4,10.4,10.4,11.2,9.4,10.4,6.8,5.8,6.2,10.2,10.6,9.0,9.4,10.0,10.2],
[10.0,10.2,10.0,10.2,10.2,10.0,9.6,10.0,10.2,8.2,8.4,8.6,9.2,8.4,9.0,7.4,9.6,10.0],
[11.8,11.6,11.8,9.6,9.6,9.8,10.0,9.6,9.8,9.6,9.6,9.6,9.4,8.4,8.8,9.8,8.2,9.8],
[8.2,8.4,8.4,8.4,8.2,8.4,8.4,8.2,8.4,9.8,9.8,9.8,9.6,9.6,9.6,9.8,9.6,9.8],
[7.8,7.8,7.8,7.6,7.8,7.8,7.6,7.8,7.8,9.6,9.6,9.4,9.6,9.4,9.6,9.4,9.6,9.6],
[7.4,7.6,7.6,7.4,7.6,7.6,7.8,7.6,7.6,9.4,9.4,9.4,9.2,9.4,9.2,9.4,9.2,9.4],
[7.4,7.6,7.4,7.2,7.4,7.6,7.2,7.0,7.2,9.2,9.4,9.2,9.4,9.4,9.0,9.4,9.2,9.4],
[9.4,9.6,9.2,8.6,8.4,8.8,8.6,7.0,8.4,6.0,6.0,5.0,8.8,8.4,8.6,8.6,8.4,8.4],
[10.0,9.6,10.2,8.6,8.6,8.8,8.6,8.6,8.6,6.2,5.6,5.8,6.4,6.4,6.2,6.4,6.2,6.4],
[9.4,9.8,9.2,8.4,8.2,8.6,8.4,8.6,8.8,5.8,5.0,5.0,6.0,6.0,5.6,5.6,5.6,6.4],
[9.2,9.8,9.4,8.4,8.6,8.4,8.4,8.4,8.4,6.6,6.0,6.2,6.6,6.6,6.6,6.6,6.6,6.8]];
const dScaleTicks=[4,6,8,10,12];

// ===== drawing =====
const NS="http://www.w3.org/2000/svg";
const svg=document.getElementById('fig');
function mk(tag,attrs,parent){const e=document.createElementNS(NS,tag);for(const k in attrs)e.setAttribute(k,attrs[k]);(parent||svg).appendChild(e);return e;}
function txt(x,y,s,size,parent,extra){const t=mk('text',Object.assign({x:x,y:y,'font-size':size,fill:'#111'},extra||{}),parent);t.textContent=s;return t;}

function volcano(cfg){
  const g=mk('g',{});
  
  
  const X=v=>cfg.x0+cfg.kx*v, Y=v=>cfg.y0-cfg.ky*v;
  function poly(xs,ys,fill,op,name){
    let p=xs.map((x,i)=>(i?'L':'M')+X(x).toFixed(1)+','+Y(ys[i]).toFixed(1)).join('')+'Z';
    const e=mk('path',{d:p,fill:fill,'fill-opacity':op,stroke:fill,'stroke-width':6,'stroke-opacity':op,'stroke-linejoin':'round'},g);
    
    
  }
  poly(cfg.cloudX,cfg.cloudY,'#000',1,'point-cloud-up');
  poly(cfg.negX,cfg.negY,'#000',1,'point-cloud-down');
  if(cfg.bandX) poly(cfg.bandX,cfg.bandY,'#e8281e',0.6,'red-point-band');
  function pts(xs,ys,col,name){
    xs.forEach((x,i)=>{
      const c=mk('circle',{cx:X(x).toFixed(1),cy:Y(ys[i]).toFixed(1),r:4,fill:col},g);
      
      
    });
  }
  pts(cfg.blackX,cfg.blackY,'#000','point-ns');
  pts(cfg.redX,cfg.redY,'#e8201c','point-up');
  pts(cfg.greenX,cfg.greenY,'#5ab93f','point-down');
  const dl=mk('line',{x1:cfg.bx0,x2:cfg.bx1,y1:Y(0),y2:Y(0),stroke:'#111','stroke-width':3,'stroke-dasharray':'15,9'},g);
  
  
  const bx=mk('rect',{x:cfg.bx0,y:cfg.by0,width:cfg.bx1-cfg.bx0,height:cfg.by1-cfg.by0,fill:'none',stroke:'#777','stroke-width':2.5},g);
  
  
  const xt=cfg.xTicks;
  mk('line',{x1:X(xt[0]),x2:X(xt[xt.length-1]),y1:cfg.by1,y2:cfg.by1,stroke:'#444','stroke-width':2},g);
  xt.forEach(v=>{
    mk('line',{x1:X(v),x2:X(v),y1:cfg.by1,y2:cfg.by1+11,stroke:'#444','stroke-width':2},g);
    const t=txt(X(v),cfg.xLabY,String(v),35,g,{'text-anchor':'middle','dominant-baseline':'central'});
    
    
  });
  const yt=cfg.yTicks;
  mk('line',{x1:cfg.bx0,x2:cfg.bx0,y1:Y(yt[0]),y2:Y(yt[yt.length-1]),stroke:'#444','stroke-width':2},g);
  yt.forEach(v=>{
    mk('line',{x1:cfg.bx0-11,x2:cfg.bx0,y1:Y(v),y2:Y(v),stroke:'#444','stroke-width':2},g);
    const lab=v<0?'\u2212'+Math.abs(v):String(v);
    const t=txt(0,0,lab,35,g,{'text-anchor':'middle','dominant-baseline':'central',transform:'translate('+cfg.yLabX+','+Y(v)+') rotate(-90)'});
    
    
  });
  const xl=txt(cfg.xTitleX,cfg.xTitleY,cfg.xTitle,35,g,{'text-anchor':'middle','dominant-baseline':'central'});
  
  
  const yl=txt(0,0,'LogFC',35,g,{'text-anchor':'middle','dominant-baseline':'central',transform:'translate(27,'+cfg.yTitleY+') rotate(-90)'});
  
  
  const ti=txt(cfg.titleX,cfg.titleY,cfg.title,33,g,{'text-anchor':'middle','dominant-baseline':'central'});
  
  
  const pl=txt(20,cfg.panelY,cfg.panel,46,g,{'dominant-baseline':'central'});
  
  
}

volcano({name:'volcano-nonirradiated',x0:125,kx:81,y0:384,ky:116.5,bx0:102,bx1:714,by0:94,by1:673,
  cloudX:aCloudX,cloudY:aCloudY,negX:aNegX,negY:aNegY,blackX:aBlackX,blackY:aBlackY,redX:aRedX,redY:aRedY,greenX:aGreenX,greenY:aGreenY,
  xTicks:aXTicks,yTicks:aYTicks,xLabY:709,yLabX:67,xTitle:'\u2013Log10 (adj.P.val)',xTitleX:398,xTitleY:748,yTitleY:328,
  title:'Volcano of nonirradiated',titleX:411,titleY:66,panel:'A',panelY:62});
volcano({name:'volcano-postirradiated',x0:161,kx:39.2,y0:1955,ky:71.7,bx0:138,bx1:751,by0:1677,by1:2233,
  cloudX:cCloudX,cloudY:cCloudY,negX:cNegX,negY:cNegY,bandX:cBandX,bandY:cBandY,blackX:cBlackX,blackY:cBlackY,redX:cRedX,redY:cRedY,greenX:cGreenX,greenY:cGreenY,
  xTicks:cXTicks,yTicks:cYTicks,xLabY:2272,yLabX:106,xTitle:'-Log10 (adj.P.val)',xTitleX:416,xTitleY:2308,yTitleY:1968,
  title:'Volcano of postirradiated',titleX:429,titleY:1644,panel:'C',panelY:1614});

const LOW=[40,70,168],MID=[255,255,255],HIGH=[232,32,28];
function colorFor(v,vmin,vmid,vmax){
  let a,b,t;
  if(v<=vmid){a=LOW;b=MID;t=(v-vmin)/(vmid-vmin);}else{a=MID;b=HIGH;t=(v-vmid)/(vmax-vmid);}
  t=Math.max(0,Math.min(1,t));
  const c=a.map((x,i)=>Math.round(x+(b[i]-x)*t));
  return 'rgb('+c.join(',')+')';
}
const PINK='#f28b82',GREEN='#4cb050';

function heatmap(cfg){
  const g=mk('g',{});
  
  
  const nc=cfg.cols.length,nr=cfg.genes.length;
  const cw=(cfg.gx1-cfg.gx0)/nc, rh=(cfg.gy1-cfg.gy0)/nr;
  const colX=j=>cfg.gx0+j*cw, rowY=i=>cfg.gy0+i*rh;
  cfg.values.forEach((row,i)=>{
    row.forEach((v,j)=>{
      const r=mk('rect',{x:colX(j).toFixed(2),y:rowY(i).toFixed(2),width:cw.toFixed(2),height:rh.toFixed(2),fill:colorFor(v,cfg.vmin,cfg.vmid,cfg.vmax),stroke:'#a2a2a2','stroke-width':1},g);
      
      
    });
  });
  cfg.types.forEach((t,j)=>{
    const r=mk('rect',{x:colX(j).toFixed(2),y:cfg.hy0,width:cw.toFixed(2),height:cfg.hy1-cfg.hy0,fill:t==='R'?GREEN:PINK,stroke:'#a2a2a2','stroke-width':1},g);
    
    
  });
  const tl=txt(cfg.gx1+3,(cfg.hy0+cfg.hy1)/2+2,'Type',31,g,{'dominant-baseline':'central'});
  
  
  cfg.genes.forEach((s,i)=>{
    const t=txt(cfg.gx1+cfg.labOff,rowY(i)+rh/2,s,cfg.geneFont,g,{'dominant-baseline':'central',fill:'#3a3a3a','font-weight':'bold'});
    
    
  });
  cfg.cols.forEach((s,j)=>{
    const t=txt(0,0,s,cfg.colFont,g,{'dominant-baseline':'central',transform:'translate('+(colX(j)+cw/2).toFixed(1)+','+(cfg.gy1+8)+') rotate(90)'});
    
    
  });
  const dg=mk('g',{fill:'none',stroke:'#333','stroke-width':1.6},g);
  
  
  const leafX=cfg.gx0-2;
  function auto(a,b,h){
    if(a===b) return {x:leafX,y:rowY(a)+rh/2};
    const m=Math.floor((a+b)/2);
    return join(auto(a,m,Math.max(3,h*0.62)),auto(m+1,b,Math.max(3,h*0.62)),h);
  }
  function join(L,R,h){
    const x=leafX-h;
    mk('path',{d:'M'+L.x+','+L.y+'H'+x+'V'+R.y+'H'+R.x},dg);
    return {x:x,y:(L.y+R.y)/2};
  }
  function build(s){
    if(s.r) return auto(s.r[0],s.r[1],s.h);
    return join(build(s.c[0]),build(s.c[1]),s.h);
  }
  build(cfg.tree);
  const ti=txt(cfg.titleX,cfg.titleY,cfg.title,31,g,{'text-anchor':'middle','dominant-baseline':'central'});
  
  
  const pl=txt(cfg.panelX,cfg.panelY,cfg.panel,46,g,{'dominant-baseline':'central'});
  
  
  const cb=cfg.cbar;
  const gradId='grad'+cfg.panel;
  const defs=mk('defs',{},g);
  const lg=mk('linearGradient',{id:gradId,x1:0,y1:1,x2:0,y2:0},defs);
  for(let k=0;k<=20;k++){
    const v=cfg.vmin+(cfg.vmax-cfg.vmin)*k/20;
    mk('stop',{offset:(k/20),'stop-color':colorFor(v,cfg.vmin,cfg.vmid,cfg.vmax)},lg);
  }
  const cbr=mk('rect',{x:cb.x0,y:cb.y0,width:cb.x1-cb.x0,height:cb.y1-cb.y0,fill:'url(#'+gradId+')'},g);
  
  
  const cy=v=>cb.y1-(v-cfg.vmin)/(cfg.vmax-cfg.vmin)*(cb.y1-cb.y0);
  cfg.scaleTicks.forEach(v=>{
    const t=txt(cb.x1+5,cy(v),String(v),30,g,{'dominant-baseline':'central'});
    
    
  });
  const L=cfg.legend;
  const lt=txt(L.titleX,L.titleY,'Type',29,g,{'dominant-baseline':'central'});
  
  
  [['Radioresistant',GREEN],['Radiosensitive',PINK]].forEach((e,k)=>{
    const y=L.boxY+k*L.boxH;
    const r=mk('rect',{x:L.boxX,y:y,width:L.boxW,height:L.boxH,fill:e[1]},g);
    
    
    const t=txt(L.boxX+L.boxW+7,y+L.boxH/2+1,e[0],29,g,{'dominant-baseline':'central'});
    
    
  });
}

heatmap({name:'heatmap-nonirradiated',cols:bCols,types:bTypes,genes:bGenes,values:bValues,
  gx0:907,gx1:1620,gy0:123,gy1:1279,hy0:71,hy1:92,labOff:7,geneFont:11.5,colFont:37,
  vmin:4.43,vmid:8.15,vmax:11.87,scaleTicks:bScaleTicks,
  cbar:{x0:1698,x1:1720,y0:66,y1:368},
  legend:{titleX:1773,titleY:65,boxX:1773,boxY:96,boxW:30,boxH:28},
  title:'Heat map of nonirradiated',titleX:1308,titleY:51,panel:'B',panelX:790,panelY:33,
  tree:{h:85,c:[{h:62,c:[{r:[0,15],h:40},{r:[16,22],h:30}]},{h:70,c:[{h:55,c:[{r:[23,26],h:22},{r:[27,53],h:40}]},{h:64,c:[{r:[54,59],h:35},{r:[60,85],h:45}]}]}]}});

heatmap({name:'heatmap-postirradiated',cols:dCols,types:dTypes,genes:dGenes,values:dValues,
  gx0:907,gx1:1603,gy0:1651,gy1:2789,hy0:1604,hy1:1623,labOff:7,geneFont:10,colFont:33,
  vmin:3.75,vmid:8.4,vmax:13.1,scaleTicks:dScaleTicks,
  cbar:{x0:1699,x1:1720,y0:1601,y1:1893},
  legend:{titleX:1776,titleY:1594,boxX:1768,boxY:1622,boxW:31,boxH:29},
  title:'Heat map of postirradiated',titleX:1259,titleY:1579,panel:'D',panelX:785,panelY:1583,
  tree:{h:103,c:[{h:44,c:[{h:38,c:[{r:[0,8],h:25},{r:[9,26],h:30}]},{h:40,c:[{r:[27,38],h:32},{r:[39,87],h:36}]}]},{h:60,c:[{r:[88,91],h:35},{r:[92,99],h:40}]}]}});
</script>
</body></html>
